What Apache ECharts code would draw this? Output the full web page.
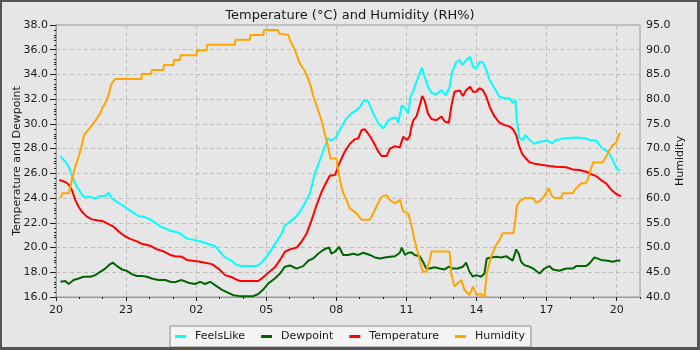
<!DOCTYPE html>
<html>
<head>
<meta charset="utf-8">
<script src="https://cdn.jsdelivr.net/npm/echarts@6/dist/echarts.min.js"></script>
<style>
html, body { margin: 0; padding: 0; background: #e6e6e6; }
#wrap { position: relative; width: 700px; height: 350px; }
#chart { width: 700px; height: 350px; }
#frame { position: absolute; left: 0; top: 0; width: 700px; height: 350px; box-sizing: border-box;
	border-style: solid; border-color: #555; border-width: 2px 3px 3px 2px; pointer-events: none; }
</style>
</head>
<body>
<div id="wrap">
<div id="chart"></div>
<div id="frame"></div>
</div>
<script>
// hours counted from 20:00
var hourLabels = ['20', '23', '02', '05', '08', '11', '14', '17', '20']
var seriesNames = ['FeelsLike', 'Dewpoint', 'Temperature', 'Humidity']

var feelsLike = [[0.19,27.4],[0.26,27.35],[0.4,26.94],[0.54,26.54],[0.64,26.0],[0.75,25.5],[0.9,24.9],[1.04,24.5],[1.18,24.1],[1.25,23.98],[1.47,24.1],[1.68,23.98],[1.89,24.17],[2.11,24.17],[2.25,24.43],[2.39,23.98],[2.61,23.7],[2.82,23.44],[3.03,23.17],[3.25,22.9],[3.53,22.55],[3.75,22.5],[4.03,22.28],[4.25,22.0],[4.46,21.7],[4.67,21.55],[4.89,21.36],[5.1,21.28],[5.31,21.14],[5.6,20.74],[5.95,20.6],[6.24,20.47],[6.53,20.28],[6.81,20.12],[7.02,19.66],[7.24,19.2],[7.52,18.93],[7.73,18.58],[7.95,18.5],[8.59,18.5],[8.8,18.77],[9.02,19.3],[9.23,19.85],[9.44,20.47],[9.66,21.14],[9.8,21.8],[10.02,22.1],[10.23,22.4],[10.44,22.9],[10.65,23.57],[10.87,24.38],[11.08,26.0],[11.3,27.08],[11.51,28.16],[11.65,28.83],[11.79,28.64],[12.0,28.96],[12.22,29.77],[12.44,30.45],[12.65,30.85],[12.87,31.12],[13.01,31.34],[13.18,31.93],[13.37,31.8],[13.58,30.85],[13.8,30.04],[14.01,29.64],[14.22,30.3],[14.44,30.5],[14.58,30.5],[14.65,30.04],[14.8,31.5],[14.94,31.26],[15.08,30.85],[15.18,32.2],[15.28,32.6],[15.43,33.4],[15.57,34.1],[15.67,34.55],[15.78,33.8],[15.92,33.0],[16.07,32.5],[16.28,32.4],[16.5,32.74],[16.68,32.3],[16.85,33.0],[16.96,34.2],[17.13,35.0],[17.28,35.17],[17.39,34.76],[17.56,35.17],[17.73,35.44],[17.85,34.6],[17.99,34.5],[18.13,35.0],[18.27,35.0],[18.42,34.36],[18.56,33.55],[18.77,32.9],[18.98,32.2],[19.2,32.07],[19.41,32.07],[19.55,31.7],[19.67,31.93],[19.72,30.3],[19.84,28.83],[19.98,28.7],[20.09,29.1],[20.27,28.7],[20.48,28.4],[20.7,28.56],[21.05,28.64],[21.27,28.43],[21.34,28.64],[21.7,28.83],[22.27,28.9],[22.69,28.83],[22.84,28.7],[23.12,28.64],[23.26,28.3],[23.4,28.0],[23.62,27.75],[23.76,27.35],[23.9,26.8],[24.0,26.4],[24.09,26.27],[24.15,26.2]]

var dewpoint = [[0.19,17.23],[0.4,17.3],[0.54,17.05],[0.75,17.37],[0.97,17.5],[1.18,17.64],[1.47,17.64],[1.68,17.77],[1.89,18.04],[2.11,18.3],[2.32,18.66],[2.44,18.77],[2.61,18.5],[2.82,18.23],[3.03,18.12],[3.25,17.85],[3.46,17.7],[3.68,17.7],[3.89,17.64],[4.1,17.5],[4.39,17.37],[4.67,17.37],[4.89,17.23],[5.1,17.2],[5.38,17.37],[5.67,17.15],[5.95,17.05],[6.17,17.23],[6.38,17.05],[6.6,17.23],[6.81,16.96],[7.09,16.6],[7.38,16.34],[7.59,16.15],[7.87,16.07],[8.44,16.07],[8.66,16.24],[8.87,16.6],[9.09,17.1],[9.37,17.5],[9.59,17.9],[9.8,18.45],[10.02,18.55],[10.3,18.3],[10.58,18.5],[10.8,18.93],[11.01,19.12],[11.22,19.5],[11.44,19.8],[11.58,19.93],[11.69,20.0],[11.79,19.5],[11.94,19.66],[12.12,20.06],[12.29,19.4],[12.51,19.4],[12.72,19.5],[12.94,19.4],[13.15,19.58],[13.44,19.4],[13.65,19.2],[13.87,19.12],[14.08,19.2],[14.3,19.26],[14.51,19.3],[14.72,19.58],[14.8,20.0],[14.94,19.4],[15.08,19.58],[15.23,19.6],[15.35,19.4],[15.57,19.3],[15.71,18.85],[15.85,18.3],[16.0,18.3],[16.21,18.4],[16.42,18.3],[16.64,18.23],[16.82,18.45],[16.99,18.3],[17.2,18.3],[17.42,18.45],[17.56,18.77],[17.7,18.04],[17.85,17.64],[17.99,17.77],[18.2,17.64],[18.34,17.9],[18.44,19.12],[18.63,19.2],[18.84,19.26],[19.06,19.2],[19.27,19.3],[19.41,19.12],[19.55,18.93],[19.7,19.85],[19.81,19.5],[19.91,18.85],[20.05,18.58],[20.27,18.45],[20.48,18.23],[20.7,17.9],[20.91,18.3],[21.12,18.5],[21.27,18.23],[21.55,18.12],[21.84,18.3],[22.12,18.3],[22.27,18.5],[22.69,18.5],[22.84,18.72],[23.05,19.2],[23.33,19.0],[23.62,18.93],[23.83,18.85],[24.0,18.93],[24.16,18.96]]

var temperature = [[0.14,25.46],[0.4,25.3],[0.54,25.1],[0.68,24.65],[0.83,23.84],[0.97,23.3],[1.11,22.9],[1.32,22.5],[1.54,22.28],[1.75,22.2],[2.04,22.1],[2.25,21.9],[2.46,21.7],[2.68,21.3],[2.96,20.9],[3.18,20.7],[3.46,20.5],[3.68,20.3],[4.03,20.15],[4.32,19.85],[4.6,19.7],[4.89,19.4],[5.1,19.3],[5.38,19.26],[5.6,19.0],[6.17,18.85],[6.67,18.66],[6.95,18.3],[7.24,17.77],[7.52,17.6],[7.73,17.4],[7.87,17.3],[8.66,17.3],[8.87,17.6],[9.09,17.96],[9.37,18.4],[9.59,19.0],[9.8,19.66],[10.01,19.85],[10.3,20.0],[10.51,20.47],[10.73,21.14],[10.94,22.2],[11.15,23.4],[11.37,24.5],[11.58,25.3],[11.72,25.8],[11.94,25.86],[12.15,26.9],[12.36,27.75],[12.58,28.4],[12.79,28.75],[12.94,28.83],[13.08,29.5],[13.22,29.56],[13.37,29.2],[13.58,28.56],[13.8,27.75],[13.94,27.4],[14.15,27.4],[14.3,28.0],[14.51,28.2],[14.72,28.1],[14.86,28.96],[15.03,28.7],[15.14,29.0],[15.22,29.8],[15.3,30.3],[15.43,30.6],[15.57,31.5],[15.68,32.25],[15.78,31.9],[15.92,30.85],[16.07,30.4],[16.28,30.3],[16.5,30.6],[16.64,30.2],[16.82,30.1],[16.92,31.4],[17.06,32.6],[17.28,32.7],[17.42,32.25],[17.56,32.74],[17.73,33.0],[17.85,32.6],[17.99,32.6],[18.13,32.9],[18.27,32.74],[18.42,32.2],[18.59,31.26],[18.77,30.6],[18.98,30.1],[19.2,29.9],[19.41,29.8],[19.55,29.6],[19.7,29.1],[19.81,28.3],[19.95,27.6],[20.12,27.2],[20.27,26.9],[20.55,26.75],[20.84,26.67],[21.12,26.6],[21.41,26.54],[21.84,26.5],[22.12,26.32],[22.41,26.27],[22.69,26.13],[22.9,25.95],[23.12,25.78],[23.33,25.46],[23.55,25.19],[23.76,24.7],[23.95,24.38],[24.09,24.22],[24.19,24.17]]

var humidity = [[0.19,60.0],[0.28,61.0],[0.55,61.0],[0.62,62.5],[0.72,64.5],[0.83,66.4],[0.97,68.4],[1.07,70.0],[1.18,72.4],[1.25,73.1],[1.44,74.1],[1.58,75.0],[1.75,76.1],[1.89,77.1],[1.97,78.1],[2.11,79.2],[2.25,80.8],[2.32,82.2],[2.39,83.2],[2.54,84.1],[3.66,84.1],[3.68,85.1],[4.08,85.1],[4.1,85.9],[4.6,85.9],[4.62,86.9],[5.03,86.9],[5.05,87.9],[5.31,87.9],[5.33,88.9],[6.02,88.9],[6.04,89.9],[6.45,89.9],[6.47,91.0],[7.66,91.0],[7.68,92.0],[8.3,92.0],[8.32,93.0],[8.88,93.0],[8.9,94.0],[9.5,94.0],[9.55,93.3],[9.95,93.0],[10.01,92.0],[10.23,89.9],[10.44,87.2],[10.66,85.6],[10.87,83.2],[11.0,80.8],[11.22,77.8],[11.36,75.8],[11.5,73.1],[11.65,70.4],[11.75,68.0],[12.0,68.0],[12.08,65.7],[12.18,63.0],[12.3,61.0],[12.44,59.6],[12.58,57.9],[12.87,56.9],[13.08,55.6],[13.44,55.6],[13.58,56.9],[13.75,58.6],[13.94,60.3],[14.15,60.6],[14.3,59.6],[14.5,58.9],[14.72,59.6],[14.87,57.3],[15.08,56.9],[15.14,55.9],[15.26,53.5],[15.35,51.5],[15.5,48.8],[15.64,46.1],[15.71,45.1],[15.85,45.1],[16.0,47.5],[16.07,49.2],[16.85,49.2],[16.92,44.8],[17.06,42.1],[17.2,42.8],[17.35,43.4],[17.49,41.4],[17.7,40.4],[17.85,42.1],[18.0,40.4],[18.2,40.6],[18.34,40.0],[18.44,44.8],[18.63,48.2],[18.81,50.2],[18.98,51.5],[19.13,52.9],[19.58,52.9],[19.67,55.6],[19.72,58.3],[19.84,59.3],[20.05,60.0],[20.41,60.0],[20.55,59.1],[20.7,59.3],[20.84,60.0],[20.98,61.0],[21.1,62.0],[21.2,60.6],[21.34,60.0],[21.62,60.0],[21.7,61.0],[22.12,61.0],[22.27,62.0],[22.48,63.0],[22.69,63.0],[22.8,64.3],[22.9,66.0],[23.0,67.2],[23.4,67.2],[23.55,68.4],[23.69,69.7],[23.83,70.7],[23.97,71.1],[24.09,72.8],[24.16,73.1]]

var colors = ['#00ffff', '#006400', '#ff0000', '#ffa500']
var font = 'DejaVu Sans'

function lineSeries(i, data, yIndex) {
	return {
		name: seriesNames[i],
		type: 'line',
		xAxisIndex: 0,
		yAxisIndex: yIndex,
		data: data,
		showSymbol: false,
		symbol: 'none',
		animation: false,
		lineStyle: { color: colors[i], width: 2 },
		itemStyle: { color: colors[i] }
	}
}

var myChart = echarts.init(document.getElementById('chart'))
var option = {
	backgroundColor: '#e6e6e6',
	animation: false,
	title: {
		text: 'Temperature (°C) and Humidity (RH%)',
		left: 'center',
		top: 4,
		textStyle: { fontFamily: font, fontSize: 13, fontWeight: 'normal', color: '#1a1a1a' }
	},
	legend: {
		data: seriesNames,
		left: 'center',
		top: 326,
		icon: 'rect',
		itemWidth: 11,
		itemHeight: 3,
		itemGap: 16,
		padding: [5, 6, 5, 5],
		backgroundColor: '#f4f4f4',
		borderColor: '#8a8a8a',
		borderWidth: 1,
		borderRadius: 0,
		textStyle: { fontFamily: font, fontSize: 11, color: '#1a1a1a', padding: [0, 0, 0, 4] }
	},
	grid: {
		left: 56, top: 25, right: 60, bottom: 53,
		containLabel: false,
		outerBoundsMode: 'none',
		show: true,
		backgroundColor: '#e6e6e6',
		borderColor: '#9a9a9a',
		borderWidth: 1
	},
	xAxis: [{
		type: 'value',
		min: 0,
		max: 25,
		interval: 3,
		axisLine: { show: true, lineStyle: { color: '#9a9a9a' } },
		axisTick: { show: true, length: 4, lineStyle: { color: '#222' } },
		axisLabel: {
			fontFamily: font, fontSize: 11, color: '#1a1a1a', margin: 8,
			showMaxLabel: false,
			alignMinLabel: 'center',
			alignMaxLabel: 'center',
			formatter: function(v) { return hourLabels[v / 3] || '' }
		},
		splitLine: { show: true, lineStyle: { color: '#bcbcbc', type: [4, 3] } }
	}, {
		// hourly minor ticks
		type: 'value',
		min: 0,
		max: 25,
		interval: 1,
		position: 'bottom',
		axisLine: { show: false },
		axisTick: { show: true, length: 2, lineStyle: { color: '#222' } },
		axisLabel: { show: false },
		splitLine: { show: false }
	}],
	yAxis: [{
		type: 'value',
		min: 16,
		max: 38,
		interval: 2,
		name: 'Temperature and Dewpoint',
		nameLocation: 'middle',
		nameGap: 33,
		nameMoveOverlap: false,
		nameTextStyle: { fontFamily: font, fontSize: 11, color: '#1a1a1a' },
		axisLine: { show: true, lineStyle: { color: '#9a9a9a' } },
		axisTick: { show: true, length: 6, lineStyle: { color: '#222' } },
		minorTick: { show: true, splitNumber: 2, length: 2, lineStyle: { color: '#222' } },
		axisLabel: {
			fontFamily: font, fontSize: 11, color: '#1a1a1a', margin: 8,
			formatter: function(v) { return v.toFixed(1) }
		},
		splitLine: { show: true, lineStyle: { color: '#bcbcbc', type: [4, 3] } }
	}, {
		type: 'value',
		min: 40,
		max: 95,
		interval: 5,
		position: 'right',
		name: 'Humidity',
		nameLocation: 'middle',
		nameGap: 35,
		nameMoveOverlap: false,
		nameTextStyle: { fontFamily: font, fontSize: 11, color: '#1a1a1a' },
		axisLine: { show: true, lineStyle: { color: '#9a9a9a' } },
		axisTick: { show: true, inside: true, length: 4, lineStyle: { color: '#222' } },
		minorTick: { show: true, splitNumber: 5, length: 2, lineStyle: { color: '#222' } },
		axisLabel: {
			fontFamily: font, fontSize: 11, color: '#1a1a1a', margin: 6,
			formatter: function(v) { return v.toFixed(1) }
		},
		splitLine: { show: false }
	}],
	series: [
		lineSeries(0, feelsLike, 0),
		lineSeries(1, dewpoint, 0),
		lineSeries(2, temperature, 0),
		lineSeries(3, humidity, 1)
	]
}
myChart.setOption(option)
</script>
</body>
</html>
